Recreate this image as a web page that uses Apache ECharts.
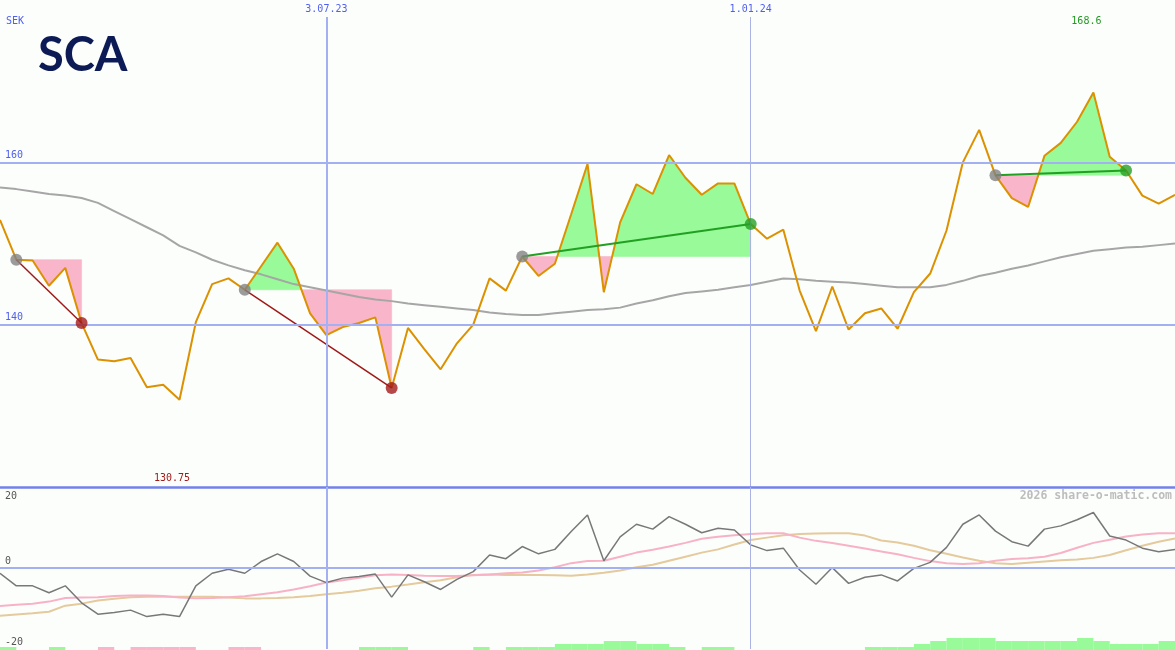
<!DOCTYPE html>
<html><head><meta charset="utf-8">
<script src="https://cdn.jsdelivr.net/npm/echarts@6/dist/echarts.min.js"></script>
<style>html,body{margin:0;padding:0;background:#fcfefc}#c{width:1175px;height:650px}</style>
</head><body><div id="c"></div><script>
// weekly index 0..72 (index 20 = 3.07.23, index 46 = 1.01.24, index 72 = 1.07.24)
const price = [152.9,148.0,147.9,144.8,147.0,140.2,135.7,135.5,135.9,132.3,
  132.6,130.75,140.3,145.0,145.7,144.3,147.2,150.1,146.9,141.4,
  138.7,139.7,140.2,140.9,132.2,139.6,137.0,134.5,137.7,140.0,
  145.7,144.2,148.4,146.0,147.5,153.6,159.8,144.0,152.6,157.3,
  156.1,160.9,158.1,156.0,157.4,157.4,152.4,150.6,151.7,144.2,
  139.2,144.7,139.4,141.4,142.0,139.5,144.0,146.3,151.6,160.0,
  164.0,158.4,155.6,154.5,160.8,162.4,165.0,168.6,160.7,159.0,
  155.9,154.9,156.0];
const movAvg = [156.9,156.7,156.4,156.1,155.9,155.6,155.0,154.0,153.0,152.0,
  151.0,149.7,148.9,148.0,147.3,146.7,146.2,145.6,145.0,144.6,
  144.2,143.8,143.4,143.1,142.9,142.6,142.4,142.2,142.0,141.8,
  141.5,141.3,141.2,141.2,141.4,141.6,141.8,141.9,142.1,142.6,
  143.0,143.5,143.9,144.1,144.3,144.6,144.9,145.3,145.7,145.6,
  145.4,145.3,145.2,145.0,144.8,144.6,144.6,144.6,144.9,145.4,
  146.0,146.4,146.9,147.3,147.8,148.3,148.7,149.1,149.3,149.5,
  149.6,149.8,150.0];
const osc = [-1.3,-4.4,-4.4,-6.1,-4.4,-8.6,-11.4,-11.0,-10.4,-12.0,
  -11.4,-12.0,-4.4,-1.3,-0.3,-1.3,1.6,3.5,1.6,-2.0,
  -3.6,-2.5,-2.1,-1.5,-7.2,-1.7,-3.4,-5.3,-2.8,-0.9,
  3.2,2.3,5.3,3.5,4.6,9.0,13.1,1.8,7.7,10.8,
  9.6,12.7,10.8,8.7,9.8,9.4,5.7,4.3,4.9,-0.5,
  -4.0,0.1,-3.8,-2.3,-1.7,-3.2,-0.1,1.4,5.1,10.8,
  13.1,9.1,6.5,5.4,9.6,10.4,11.9,13.7,7.9,6.9,
  4.9,4.0,4.6];
const oscPink = [-9.4,-9.1,-8.8,-8.3,-7.4,-7.3,-7.2,-6.9,-6.8,-6.8,
  -6.9,-7.3,-7.5,-7.4,-7.2,-7.0,-6.5,-6.0,-5.3,-4.5,
  -3.6,-3.0,-2.4,-1.8,-1.6,-1.7,-1.9,-2.0,-2.0,-1.8,
  -1.6,-1.3,-1.1,-0.6,0.2,1.2,1.7,1.8,2.8,3.8,
  4.5,5.3,6.2,7.2,7.7,8.1,8.4,8.6,8.6,7.5,
  6.7,6.2,5.5,4.8,4.1,3.4,2.5,1.7,1.2,1.0,
  1.2,1.8,2.2,2.4,2.8,3.7,5.0,6.2,7.0,7.8,
  8.3,8.6,8.6];
const oscTan = [-11.8,-11.5,-11.2,-10.8,-9.3,-8.8,-8.0,-7.6,-7.2,-7.1,
  -7.1,-7.1,-7.1,-7.1,-7.3,-7.5,-7.5,-7.4,-7.2,-6.9,
  -6.5,-6.1,-5.6,-5.0,-4.6,-4.1,-3.5,-3.0,-2.3,-1.7,
  -1.6,-1.7,-1.7,-1.7,-1.8,-1.9,-1.6,-1.2,-0.6,0.2,
  0.8,1.8,2.8,3.8,4.6,5.8,6.9,7.5,8.1,8.4,
  8.5,8.6,8.6,8.0,6.8,6.3,5.5,4.4,3.5,2.6,
  1.8,1.2,1.0,1.3,1.6,1.9,2.1,2.5,3.2,4.4,
  5.5,6.5,7.3];
// trend cells between week i and i+1 (+ green, - pink)
const trend = [1,0,0,1,0,0,-1,0,-1,-1,
  -1,-1,0,0,-1,-1,0,0,0,0,
  0,0,1,1,1,0,0,0,0,1,
  0,1,1,1,2,2,2,3,3,2,
  2,1,0,1,1,0,0,0,0,0,
  0,0,0,1,1,1,2,3,4,4,
  4,3,3,3,3,3,4,3,2,2,
  2,3];
const trades = [{entry:1, exit:5},{entry:15, exit:24},{entry:32, exit:46},{entry:61, exit:69}];
const topDates = [{i:20, label:'3.07.23', strong:true},{i:46, label:'1.01.24', strong:false}];
const startLabel = '6.02.23', endLabel = '1.07.24';
const mainTicks = [160, 140];
const lowTicks = [20, 0, -20];

const GREEN = '#98fa98', PINK = '#f9b5c9', BLUE = '#a3b1f2', BLUE2 = '#aab3e4';
const MONO = 'DejaVu Sans Mono';
const pts = a => a.map((v,i)=>[i,v]);

function fillItem(params, api){
  const t = trades[params.dataIndex];
  const L = price[t.entry];
  const P = [];
  for (let i=t.entry;i<=t.exit;i++){
    if (i>t.entry){
      const a = price[i-1]-L, b = price[i]-L;
      if (a*b<0) P.push([i-1 + a/(a-b), L]);
    }
    P.push([i, price[i]]);
  }
  const runs = []; let run = null;
  for (let k=0;k<P.length-1;k++){
    const m = (P[k][1]+P[k+1][1])/2 - L;
    const s = m>0?1:(m<0?-1:0);
    if (!run || run.s!==s){ if (run) runs.push(run); run = {s:s, pts:[P[k]]}; }
    run.pts.push(P[k+1]);
  }
  if (run) runs.push(run);
  const children = runs.filter(r=>r.s!==0).map(r=>{
    const poly = [[r.pts[0][0], L]].concat(r.pts, [[r.pts[r.pts.length-1][0], L]]).map(p=>api.coord(p));
    const c = r.s>0?GREEN:PINK;
    return {type:'polygon', shape:{points:poly}, style:{fill:c, stroke:c, lineWidth:0.6}};
  });
  return {type:'group', children:children};
}
function barItem(params, api){
  const i = api.value(0), v = api.value(1);
  if (!v) return null;
  const p0 = api.coord([i, 0]), p1 = api.coord([i+1, Math.abs(v)]);
  return {type:'rect', shape:{x:p0[0], y:p1[1], width:p1[0]-p0[0], height:p0[1]-p1[1]}, style:{fill: v>0?GREEN:PINK}};
}

const lbl = (txt, pos, color, extra) => Object.assign({show:true, formatter:txt, position:pos, color:color||'#4f5ff0', fontFamily:MONO, fontSize:10}, extra||{});

const mainMarks = mainTicks.map(v=>({yAxis:v, lineStyle:{color:BLUE, width:2, type:'solid'}, label:lbl(String(v),'insideStartTop',null,{distance:[5,2]})}));
topDates.forEach(d=>{
  mainMarks.push([{coord:[d.i,177.9], lineStyle:{color:d.strong?BLUE:BLUE2, width:d.strong?2:1, type:'solid'}, label:lbl(d.label,'start',null,{distance:3})},{coord:[d.i,120]}]);
});
mainMarks.push({yAxis:120, lineStyle:{opacity:0}, label:lbl(startLabel,'insideStartTop',null,{distance:[6,3]})});
mainMarks.push({yAxis:120, lineStyle:{opacity:0}, label:lbl(endLabel,'insideEndTop',null,{distance:[3,3]})});

const lowMarks = [
  {yAxis:20, lineStyle:{color:'#7382ea', width:2.5, type:'solid'}, label:{show:false}},
  {yAxis:0, lineStyle:{color:BLUE, width:2, type:'solid'}, label:{show:false}}
];
topDates.forEach(d=>lowMarks.push({xAxis:d.i, lineStyle:{color:d.strong?BLUE:BLUE2, width:d.strong?2:1, type:'solid'}, label:{show:false}}));

const series = [
  {type:'line', xAxisIndex:0, yAxisIndex:0, data:pts(price), symbol:'none', lineStyle:{opacity:0}, silent:true, z:0,
   markLine:{symbol:['none','none'], silent:true, animation:false, data:mainMarks}},
  {type:'line', xAxisIndex:1, yAxisIndex:1, data:pts(osc), symbol:'none', lineStyle:{opacity:0}, silent:true, z:0,
   markLine:{symbol:['none','none'], silent:true, animation:false, data:lowMarks}},
  {type:'custom', xAxisIndex:0, yAxisIndex:0, z:1, renderItem:fillItem,
   data:trades.map(t=>[t.entry, t.exit, price[t.entry]]), encode:{x:[0,1], y:2}},
  {type:'line', xAxisIndex:0, yAxisIndex:0, z:2, data:pts(movAvg), symbol:'none', lineStyle:{color:'#a6a6a6', width:2}},
  {type:'line', xAxisIndex:0, yAxisIndex:0, z:3, data:pts(price), symbol:'none', lineStyle:{color:'#dc9100', width:2},
   markPoint:{symbol:'circle', symbolSize:0, itemStyle:{color:'transparent'}, animation:false, data:[
     {type:'max', label:{show:true, position:'inside', offset:[-7,-70.7], color:'#229a22', fontFamily:MONO, fontSize:10, formatter:p=>String(p.value)}},
     {type:'min', label:{show:true, position:'inside', offset:[-7.5,78.9], color:'#a01a1a', fontFamily:MONO, fontSize:10, formatter:p=>String(p.value)}}
   ]}}
];
trades.forEach(t=>{
  const win = price[t.exit] > price[t.entry];
  series.push({type:'line', xAxisIndex:0, yAxisIndex:0, z:4, symbol:'none',
    data:[[t.entry, price[t.entry]],[t.exit, price[t.exit]]],
    lineStyle:{color: win?'#22a022':'#a01818', width: win?2:1.5}});
});
series.push({type:'scatter', xAxisIndex:0, yAxisIndex:0, z:5, symbolSize:12,
  data:[].concat(...trades.map(t=>{
    const win = price[t.exit] > price[t.entry];
    return [{value:[t.entry, price[t.entry]], itemStyle:{color:'#828282'}},
            {value:[t.exit, price[t.exit]], itemStyle:{color: win?'#26a026':'#a31c1c'}}];
  }))});
series.push({type:'line', xAxisIndex:1, yAxisIndex:1, z:2, data:pts(oscTan), symbol:'none', lineStyle:{color:'#e4ca9c', width:2}});
series.push({type:'line', xAxisIndex:1, yAxisIndex:1, z:2, data:pts(oscPink), symbol:'none', lineStyle:{color:'#f7b2c6', width:2}});
series.push({type:'line', xAxisIndex:1, yAxisIndex:1, z:3, data:pts(osc), symbol:'none', lineStyle:{color:'#787878', width:1.5}});
series.push({type:'custom', xAxisIndex:2, yAxisIndex:2, z:2, renderItem:barItem, data:trend.map((v,i)=>[i,v]), encode:{x:0, y:1}});

const axX = i => ({type:'value', gridIndex:i, min:0, max:72, show:false});
const chart = echarts.init(document.getElementById('c'));
chart.setOption({
  animation:false,
  backgroundColor:'#fcfefc',
  textStyle:{fontFamily:MONO},
  grid:[{left:0, width:1175, top:-1, height:488},{left:0, width:1175, top:487, height:162},{left:0, width:1175, top:626, height:24}],
  xAxis:[axX(0), axX(1), axX(2)],
  yAxis:[{type:'value', gridIndex:0, min:120, max:180, show:false},
         {type:'value', gridIndex:1, min:-20, max:20, show:false},
         {type:'value', gridIndex:2, min:0, max:8, show:false}],
  graphic:[
    {type:'text', x:38, y:56, style:{text:'SCA', fontSize:47, fontWeight:700, fontFamily:'Lato', fill:'#0c1b55', verticalAlign:'middle'}},
    {type:'text', x:6, y:21.5, style:{text:'SEK', fontSize:10, fontFamily:MONO, fill:'#4f5ff0', verticalAlign:'middle'}},
    {type:'text', x:1172, y:496, style:{text:'2026 share-o-matic.com', fontSize:11.5, fontWeight:700, fontFamily:MONO, fill:'#bdbdbd', align:'right', verticalAlign:'middle'}}
  ],
  series:series
});
// lower-panel tick labels positioned through the lower grid's scale
const tickGraphics = lowTicks.map((v, k) => {
  const p = chart.convertToPixel({gridIndex:1}, [0, v]);
  const dy = v === 20 ? 9 : -7;
  return {type:'text', id:'lt'+k, x:5, y:p[1]+dy, style:{text:String(v), fontSize:10, fontFamily:MONO, fill:'#555', verticalAlign:'middle'}};
});
chart.setOption({graphic: tickGraphics});
</script></body></html>
